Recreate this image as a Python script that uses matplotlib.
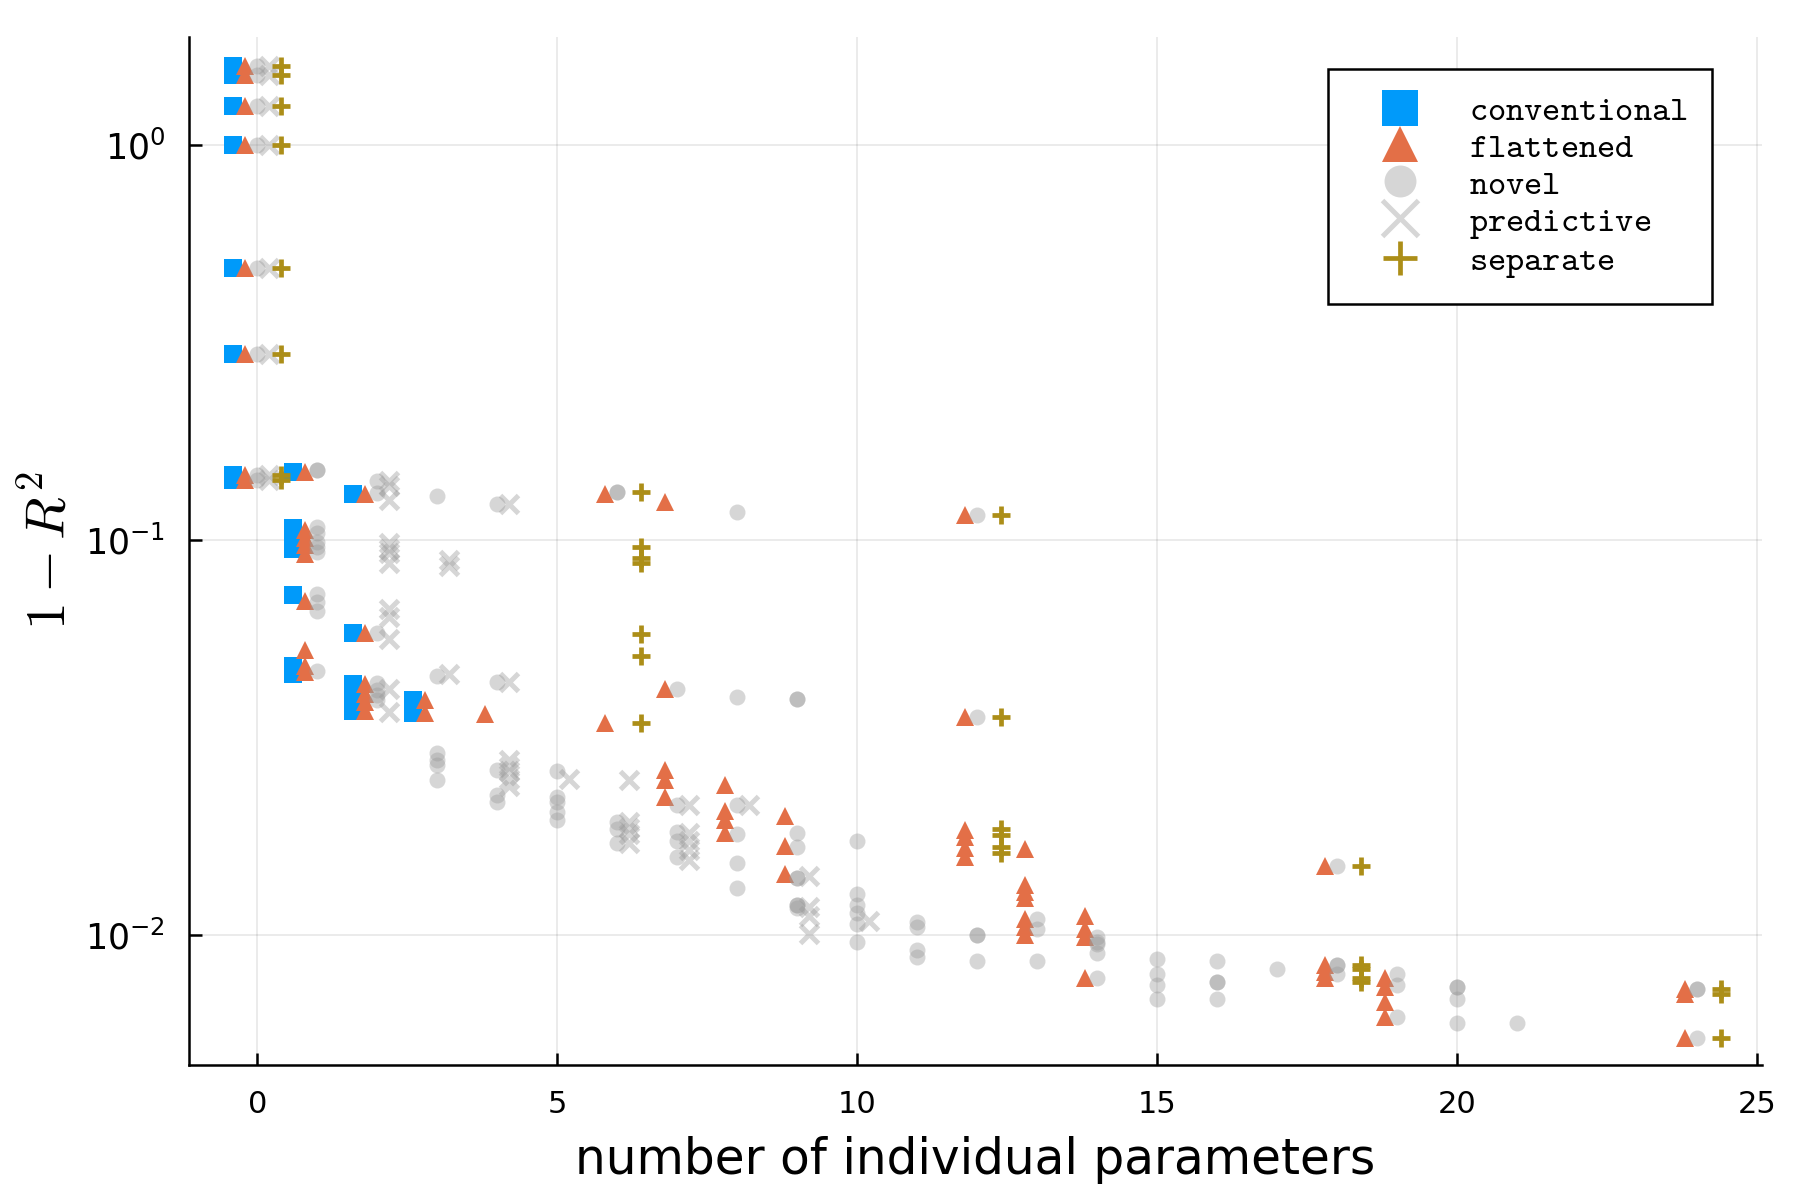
import matplotlib.pyplot as plt
import numpy as np

# 1 - R^2 of each fitted model, keyed by number of individual parameters
baseline = [1.58, 1.50, 1.25, 1.0, 0.487, 0.296, 0.146, 0.142]  # k = 0, same for all

conventional = {
    0: baseline,
    1: [0.149, 0.107, 0.101, 0.095, 0.0728, 0.048, 0.0458],
    2: [0.131, 0.0583, 0.0432, 0.0409, 0.0389, 0.0369],
    3: [0.0395, 0.0365],
}
flattened = {
    0: baseline,
    1: [0.149, 0.106, 0.101, 0.097, 0.092, 0.0703, 0.0526, 0.048, 0.0464],
    2: [0.131, 0.0583, 0.0432, 0.0409, 0.0389, 0.0369],
    3: [0.0395, 0.0365],
    4: [0.0362],
    6: [0.131, 0.0344],
    7: [0.125, 0.042, 0.0262, 0.0247, 0.0224],
    8: [0.024, 0.0206, 0.0196, 0.0181],
    9: [0.0200, 0.0168, 0.0143],
    12: [0.116, 0.0357, 0.0185, 0.0177, 0.0166, 0.0158],
    13: [0.0165, 0.0134, 0.0129, 0.0124, 0.0110, 0.0105, 0.0100],
    14: [0.0112, 0.0104, 0.0099, 0.0078],
    18: [0.0150, 0.0084, 0.0081, 0.0078],
    19: [0.0078, 0.0074, 0.0068, 0.0062],
    24: [0.0073, 0.0071, 0.0055],
}
novel = {
    0: baseline,
    1: [0.150, 0.150, 0.108, 0.104, 0.099, 0.096, 0.093, 0.0731, 0.0698, 0.066, 0.0465],
    2: [0.141, 0.1317, 0.0583, 0.0434, 0.0418, 0.0405, 0.0393],
    3: [0.129, 0.0452, 0.0290, 0.0277, 0.0270, 0.0247],
    4: [0.123, 0.0438, 0.0262, 0.0226, 0.0218],
    5: [0.0260, 0.0224, 0.0218, 0.0205, 0.0196],
    6: [0.132, 0.132, 0.0193, 0.0186, 0.0171],
    7: [0.042, 0.0214, 0.0183, 0.0173, 0.0158],
    8: [0.118, 0.0401, 0.0214, 0.018, 0.0152, 0.0132],
    9: [0.0397, 0.0397, 0.0181, 0.0167, 0.0140, 0.0140, 0.0119, 0.0119, 0.0117],
    10: [0.0173, 0.0127, 0.0119, 0.0114, 0.0107, 0.0096],
    11: [0.0108, 0.0105, 0.0092, 0.0088],
    12: [0.116, 0.0357, 0.0100, 0.0100, 0.0086],
    13: [0.0110, 0.0104, 0.0086],
    14: [0.0099, 0.0096, 0.0095, 0.0090, 0.0078],
    15: [0.0087, 0.0080, 0.0075, 0.0069],
    16: [0.0086, 0.0076, 0.0076, 0.0069],
    17: [0.0082],
    18: [0.0150, 0.0084, 0.0084, 0.0080],
    19: [0.0080, 0.0075, 0.0062],
    20: [0.0074, 0.0074, 0.0069, 0.0060],
    21: [0.0060],
    24: [0.0073, 0.0073, 0.0055],
}
predictive = {
    0: baseline,
    2: [0.141, 0.137, 0.126, 0.098, 0.095, 0.0925, 0.0873, 0.0670, 0.0639, 0.0563, 0.0420, 0.0368],
    3: [0.0892, 0.0858, 0.0458],
    4: [0.123, 0.0438, 0.0277, 0.0267, 0.0260, 0.0249, 0.0238],
    5: [0.0249],
    6: [0.0247, 0.0194, 0.0187, 0.0180, 0.0171],
    7: [0.0214, 0.0181, 0.0173, 0.0164, 0.0155],
    8: [0.0214],
    9: [0.0141, 0.0118, 0.0112, 0.0101],
    10: [0.0109],
}
separate = {
    0: baseline,
    6: [0.132, 0.096, 0.0903, 0.0875, 0.058, 0.051, 0.0345],
    12: [0.116, 0.0357, 0.0186, 0.0179, 0.0167, 0.0162],
    18: [0.015, 0.0084, 0.0082, 0.0078, 0.0076],
    24: [0.0073, 0.0071, 0.0055],
}


def flat(d):
    k = [key for key, vals in d.items() for _ in vals]
    r = [v for vals in d.values() for v in vals]
    return np.array(k, dtype=float), np.array(r)


plt.rcParams['mathtext.fontset'] = 'cm'

fig = plt.figure(figsize=(18, 12), dpi=100)
ax = fig.add_axes([0.105, 0.1125, 0.874, 0.8565])

# (data, label, dodge offset, style)
series = [
    (conventional, "conventional", -0.4, dict(marker='s', ms=13, color='#009AFA', mew=0)),
    (flattened, "flattened", -0.2, dict(marker='^', ms=13, color='#E36F47', mew=0)),
    (novel, "novel", 0.0, dict(marker='o', ms=11.5, color='#9a9a9a', alpha=0.4, mew=0)),
    (predictive, "predictive", 0.2, dict(marker='x', ms=13, color='#9a9a9a', alpha=0.4, mew=3.6)),
    (separate, "separate", 0.4, dict(marker='+', ms=12.5, color='#AC8E18', mew=3.4)),
]
for d, label, off, st in series:
    k, r = flat(d)
    ax.plot(k + off, r, ls='none', label=r"$\mathtt{%s}$" % label, **st)

ax.set_yscale('log')
ax.set_xlim(-1.14, 25.08)
ax.set_ylim(0.0047, 1.87)
ax.set_xticks([0, 5, 10, 15, 20, 25])
ax.set_yticks([1e-2, 1e-1, 1e0])
ax.yaxis.set_minor_locator(plt.NullLocator())

ax.grid(True, color='black', alpha=0.1, lw=1.1)
ax.set_axisbelow(True)
for s in ['top', 'right']:
    ax.spines[s].set_visible(False)
for s in ['left', 'bottom']:
    ax.spines[s].set_linewidth(1.8)
ax.tick_params(direction='in', length=9, width=1.8)
ax.tick_params(axis='x', labelsize=22, pad=18)
ax.tick_params(axis='y', labelsize=25, pad=17)

ax.set_xlabel("number of individual parameters", fontsize=35, labelpad=12)
ax.set_ylabel(r"$1 - R^2$", fontsize=40, labelpad=6)

leg = ax.legend(loc='upper right', bbox_to_anchor=(0.968, 0.969), borderaxespad=0,
                prop={'size': 25}, markerscale=2,
                numpoints=1, fancybox=False, edgecolor='black', framealpha=1,
                borderpad=0.68, labelspacing=0.085, handlelength=2.77, handletextpad=0.62)
leg.get_frame().set_linewidth(1.8)

fig.savefig("out.png", dpi=100)
